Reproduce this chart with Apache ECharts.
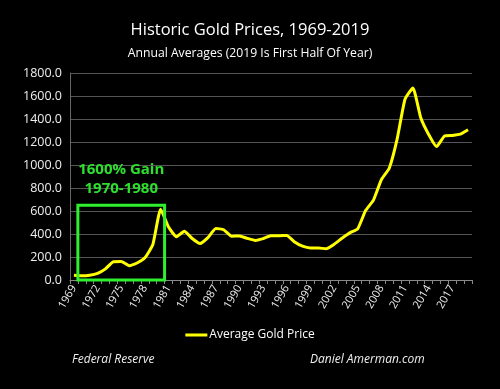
<!DOCTYPE html>
<html><head><meta charset="utf-8">
<script src="https://cdn.jsdelivr.net/npm/echarts@6/dist/echarts.min.js"></script>
<style>html,body{margin:0;padding:0;background:#000}#c{width:500px;height:389px}</style>
</head><body><div id="c"></div>
<script>
const years = ['1969','1970','1971','1972','1973','1974','1975','1976','1977','1978','1979','1980','1981','1982','1983','1984','1985','1986','1987','1988','1989','1990','1991','1992','1993','1994','1995','1996','1997','1998','1999','2000','2001','2002','2003','2004','2005','2006','2007','2008','2009','2010','2011','2012','2013','2014','2015','2016','2017','2018','2019'];
const goldPrice = [41,36,41,58,97,159,161,125,148,193,306,615,460,376,424,361,317,368,447,437,381,383,362,344,360,384,384,388,331,294,279,279,271,310,363,410,445,604,695,872,972,1225,1572,1669,1411,1266,1160,1251,1257,1268,1307];
const yTicks = {min:0, max:1800, interval:200};
const boxRange = {from:'1970', to:'1980', top:650};
const seriesName = 'Average Gold Price';

const chart = echarts.init(document.getElementById('c'));
const font = '"Open Sans", "Noto Sans", sans-serif';
chart.setOption({
  backgroundColor:'#000',
  animation:false,
  title:[
    {text:'Historic Gold Prices, 1969-2019', left:'center', top:17, textStyle:{color:'#fff', fontSize:16.5, fontWeight:'normal', fontFamily:font}},
    {text:'Annual Averages (2019 Is First Half Of Year)', left:'center', top:43, textStyle:{color:'#fff', fontSize:12.2, fontWeight:'normal', fontFamily:font}}
  ],
  grid:{left:70, right:28, top:73, bottom:109},
  legend:{data:[seriesName], top:324, left:'center', itemWidth:22, itemHeight:3, itemGap:2, icon:'rect',
    textStyle:{color:'#fff', fontSize:12, fontFamily:font, padding:[0,0,0,-3]}},
  xAxis:{type:'category', data:years, boundaryGap:true,
    axisLine:{lineStyle:{color:'#888'}},
    axisTick:{show:true, interval:0, length:4, lineStyle:{color:'#888'}},
    axisLabel:{interval:2, rotate:60, color:'#eee', fontSize:11, fontFamily:font, margin:6}},
  yAxis:{type:'value', min:yTicks.min, max:yTicks.max, interval:yTicks.interval,
    axisLine:{show:true, lineStyle:{color:'#666'}},
    splitLine:{lineStyle:{color:'#555', width:1}},
    axisLabel:{color:'#eee', fontSize:12.5, fontFamily:font, margin:8, formatter:v=>v.toFixed(1)}},
  series:[{name:seriesName, type:'line', data:goldPrice, showSymbol:false, smooth:0.15,
    lineStyle:{color:'#ffff00', width:3}, itemStyle:{color:'#ffff00'}}]
});

function drawBox(){
  const x0 = chart.convertToPixel({xAxisIndex:0}, boxRange.from);
  const x1 = chart.convertToPixel({xAxisIndex:0}, boxRange.to);
  const step = chart.convertToPixel({xAxisIndex:0}, years[1]) - chart.convertToPixel({xAxisIndex:0}, years[0]);
  const yTop = chart.convertToPixel({yAxisIndex:0}, boxRange.top);
  const yBot = chart.convertToPixel({yAxisIndex:0}, 0);
  const left = x0 - step/2, right = x1 + step/2;
  const cx = (left+right)/2;
  chart.setOption({graphic:[
    {type:'rect', shape:{x:left, y:yTop, width:right-left, height:yBot-yTop}, style:{fill:'none', stroke:'#2ef02e', lineWidth:3}, z:100},
    {type:'text', x:cx, y:yTop-36, style:{text:'1600% Gain', fill:'#2ee02e', font:'bold 15px '+font, textAlign:'center', textVerticalAlign:'middle'}, z:100},
    {type:'text', x:cx, y:yTop-17, style:{text:'1970-1980', fill:'#2ee02e', font:'bold 15px '+font, textAlign:'center', textVerticalAlign:'middle'}, z:100},
    {type:'text', x:72, y:360, style:{text:'Federal Reserve', fill:'#eee', font:'italic 12px '+font, textVerticalAlign:'middle'}},
    {type:'text', x:310, y:360, style:{text:'Daniel Amerman.com', fill:'#eee', font:'italic 12px '+font, textVerticalAlign:'middle'}}
  ]});
}
drawBox();
</script></body></html>
